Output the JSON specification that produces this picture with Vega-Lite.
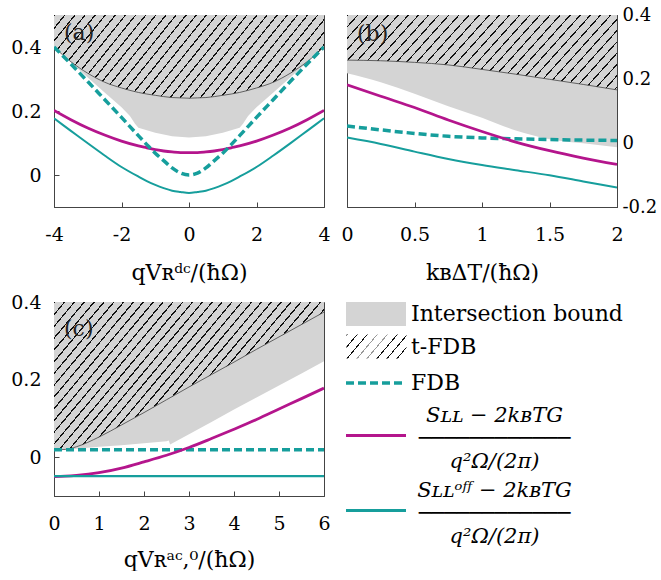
{
  "$schema": "https://vega.github.io/schema/vega-lite/v6.json",
  "padding": {"left": 10, "top": 5, "right": 0, "bottom": 0},
  "background": "white",
  "resolve": {
    "scale": {"fill": "independent", "opacity": "independent", "strokeDash": "independent", "stroke": "independent"},
    "legend": {"fill": "independent", "opacity": "independent", "strokeDash": "independent", "stroke": "independent"}
  },
  "datasets": {
    "a": [
      {"x": -4, "fdb": 0.400, "tfdb": 0.400, "sll": 0.202, "soff": 0.177},
      {"x": -3.5, "fdb": 0.347, "tfdb": 0.354, "sll": 0.173, "soff": 0.138},
      {"x": -3, "fdb": 0.292, "tfdb": 0.318, "sll": 0.147, "soff": 0.099},
      {"x": -2.5, "fdb": 0.236, "tfdb": 0.290, "sll": 0.125, "soff": 0.061},
      {"x": -2, "fdb": 0.180, "tfdb": 0.272, "sll": 0.106, "soff": 0.025},
      {"x": -1.5, "fdb": 0.123, "tfdb": 0.258, "sll": 0.091, "soff": -0.005},
      {"x": -1.25, "fdb": 0.095, "tfdb": 0.253, "sll": 0.085, "soff": -0.019},
      {"x": -1, "fdb": 0.068, "tfdb": 0.249, "sll": 0.079, "soff": -0.031},
      {"x": -0.75, "fdb": 0.045, "tfdb": 0.245, "sll": 0.075, "soff": -0.041},
      {"x": -0.5, "fdb": 0.022, "tfdb": 0.242, "sll": 0.072, "soff": -0.049},
      {"x": -0.25, "fdb": 0.006, "tfdb": 0.241, "sll": 0.070, "soff": -0.053},
      {"x": 0, "fdb": 0.000, "tfdb": 0.240, "sll": 0.070, "soff": -0.056},
      {"x": 0.25, "fdb": 0.006, "tfdb": 0.241, "sll": 0.070, "soff": -0.053},
      {"x": 0.5, "fdb": 0.022, "tfdb": 0.242, "sll": 0.072, "soff": -0.049},
      {"x": 0.75, "fdb": 0.045, "tfdb": 0.245, "sll": 0.075, "soff": -0.041},
      {"x": 1, "fdb": 0.068, "tfdb": 0.249, "sll": 0.079, "soff": -0.031},
      {"x": 1.25, "fdb": 0.095, "tfdb": 0.253, "sll": 0.085, "soff": -0.019},
      {"x": 1.5, "fdb": 0.123, "tfdb": 0.258, "sll": 0.091, "soff": -0.005},
      {"x": 2, "fdb": 0.180, "tfdb": 0.272, "sll": 0.106, "soff": 0.025},
      {"x": 2.5, "fdb": 0.236, "tfdb": 0.290, "sll": 0.125, "soff": 0.061},
      {"x": 3, "fdb": 0.292, "tfdb": 0.318, "sll": 0.147, "soff": 0.099},
      {"x": 3.5, "fdb": 0.347, "tfdb": 0.354, "sll": 0.173, "soff": 0.138},
      {"x": 4, "fdb": 0.400, "tfdb": 0.400, "sll": 0.202, "soff": 0.177}
    ],
    "a_gray": [
      {"x": -4, "g": 0.400}, {"x": -3.5, "g": 0.352}, {"x": -3, "g": 0.305}, {"x": -2.5, "g": 0.258},
      {"x": -2, "g": 0.212}, {"x": -1.75, "g": 0.184}, {"x": -1.6, "g": 0.160}, {"x": -1.5, "g": 0.148},
      {"x": -1, "g": 0.132}, {"x": -0.5, "g": 0.121}, {"x": 0, "g": 0.117}, {"x": 0.5, "g": 0.121},
      {"x": 1, "g": 0.132}, {"x": 1.5, "g": 0.148}, {"x": 1.6, "g": 0.160}, {"x": 1.75, "g": 0.184},
      {"x": 2, "g": 0.212}, {"x": 2.5, "g": 0.258}, {"x": 3, "g": 0.305}, {"x": 3.5, "g": 0.352}, {"x": 4, "g": 0.400}
    ],
    "b": [
      {"x": 0, "fdb": 0.053, "tfdb": 0.259, "sll": 0.182, "soff": 0.017},
      {"x": 0.25, "fdb": 0.041, "tfdb": 0.257, "sll": 0.146, "soff": -0.003},
      {"x": 0.5, "fdb": 0.030, "tfdb": 0.252, "sll": 0.111, "soff": -0.027},
      {"x": 0.75, "fdb": 0.021, "tfdb": 0.244, "sll": 0.072, "soff": -0.050},
      {"x": 1, "fdb": 0.016, "tfdb": 0.230, "sll": 0.036, "soff": -0.069},
      {"x": 1.25, "fdb": 0.013, "tfdb": 0.215, "sll": 0.003, "soff": -0.085},
      {"x": 1.5, "fdb": 0.011, "tfdb": 0.199, "sll": -0.024, "soff": -0.101},
      {"x": 1.75, "fdb": 0.009, "tfdb": 0.183, "sll": -0.047, "soff": -0.120},
      {"x": 2, "fdb": 0.008, "tfdb": 0.166, "sll": -0.067, "soff": -0.139}
    ],
    "b_gray": [
      {"x": 0, "g": 0.218}, {"x": 0.25, "g": 0.190}, {"x": 0.5, "g": 0.154}, {"x": 0.75, "g": 0.115},
      {"x": 1, "g": 0.079}, {"x": 1.25, "g": 0.039}, {"x": 1.5, "g": 0.012}, {"x": 1.75, "g": -0.001}, {"x": 2, "g": -0.013}
    ],
    "c": [
      {"x": 0, "fdb": 0.019, "tfdb": 0.019, "sll": -0.050, "soff": -0.049},
      {"x": 0.25, "fdb": 0.019, "tfdb": 0.020, "sll": -0.049, "soff": -0.049},
      {"x": 0.5, "fdb": 0.019, "tfdb": 0.027, "sll": -0.047, "soff": -0.049},
      {"x": 1, "fdb": 0.019, "tfdb": 0.052, "sll": -0.040, "soff": -0.049},
      {"x": 1.5, "fdb": 0.019, "tfdb": 0.083, "sll": -0.028, "soff": -0.049},
      {"x": 2, "fdb": 0.019, "tfdb": 0.115, "sll": -0.012, "soff": -0.049},
      {"x": 2.5, "fdb": 0.019, "tfdb": 0.148, "sll": 0.005, "soff": -0.049},
      {"x": 3, "fdb": 0.019, "tfdb": 0.181, "sll": 0.025, "soff": -0.049},
      {"x": 3.5, "fdb": 0.019, "tfdb": 0.213, "sll": 0.048, "soff": -0.049},
      {"x": 4, "fdb": 0.019, "tfdb": 0.245, "sll": 0.072, "soff": -0.049},
      {"x": 4.5, "fdb": 0.019, "tfdb": 0.278, "sll": 0.097, "soff": -0.049},
      {"x": 5, "fdb": 0.019, "tfdb": 0.310, "sll": 0.124, "soff": -0.049},
      {"x": 5.5, "fdb": 0.019, "tfdb": 0.342, "sll": 0.151, "soff": -0.049},
      {"x": 6, "fdb": 0.019, "tfdb": 0.374, "sll": 0.178, "soff": -0.049}
    ],
    "c_gray": [
      {"x": 0, "g": 0.019}, {"x": 0.5, "g": 0.022}, {"x": 1, "g": 0.027}, {"x": 1.5, "g": 0.031},
      {"x": 2, "g": 0.036}, {"x": 2.5, "g": 0.041}, {"x": 2.55, "g": 0.043}, {"x": 2.58, "g": 0.033},
      {"x": 3, "g": 0.059}, {"x": 3.5, "g": 0.091}, {"x": 4, "g": 0.123}, {"x": 4.5, "g": 0.154},
      {"x": 5, "g": 0.185}, {"x": 5.5, "g": 0.216}, {"x": 6, "g": 0.247}
    ],
    "none": []
  },
  "vconcat": [
    {
      "hconcat": [
        {
          "width": 270, "height": 192,
          "title": {"text": "(a)", "anchor": "start", "frame": "group", "offset": -30, "dx": 10, "baseline": "top", "fontSize": 22, "font": "DejaVu Serif", "fontWeight": "normal", "color": "#222"},
          "layer": [
            {"data": {"name": "a_gray"}, "mark": {"type": "area", "color": "#d4d4d4", "opacity": 1, "clip": true},
             "encoding": {
               "x": {"field": "x", "type": "quantitative", "scale": {"domain": [-4, 4], "nice": false}, "axis": {"values": [-4, -2, 0, 2, 4], "labelExpr": "replace(datum.label, '−', '-')", "title": "qVʀᵈᶜ/(ħΩ)", "labelPadding": 23, "titlePadding": 18}},
               "y": {"field": "g", "type": "quantitative", "scale": {"domain": [-0.1, 0.5], "nice": false, "zero": false}, "axis": {"values": [0, 0.2, 0.4], "format": "~g", "title": null, "labelPadding": 18}},
               "y2": {"datum": 0.5}}},
            {"data": {"name": "a"}, "mark": {"type": "area", "opacity": 1, "clip": true, "interpolate": "monotone",
               "fill": {"gradient": "linear", "x1": 0, "y1": 0, "x2": 1.1758, "y2": 0.2924, "stops": [
{"offset":0,"color":"#111"},{"offset":0.0045,"color":"#111"},{"offset":0.0045,"color":"transparent"},{"offset":0.03,"color":"transparent"},
{"offset":0.03,"color":"#111"},{"offset":0.0345,"color":"#111"},{"offset":0.0345,"color":"transparent"},{"offset":0.06,"color":"transparent"},
{"offset":0.06,"color":"#111"},{"offset":0.0645,"color":"#111"},{"offset":0.0645,"color":"transparent"},{"offset":0.09,"color":"transparent"},
{"offset":0.09,"color":"#111"},{"offset":0.0945,"color":"#111"},{"offset":0.0945,"color":"transparent"},{"offset":0.12,"color":"transparent"},
{"offset":0.12,"color":"#111"},{"offset":0.1245,"color":"#111"},{"offset":0.1245,"color":"transparent"},{"offset":0.15,"color":"transparent"},
{"offset":0.15,"color":"#111"},{"offset":0.1545,"color":"#111"},{"offset":0.1545,"color":"transparent"},{"offset":0.18,"color":"transparent"},
{"offset":0.18,"color":"#111"},{"offset":0.1845,"color":"#111"},{"offset":0.1845,"color":"transparent"},{"offset":0.21,"color":"transparent"},
{"offset":0.21,"color":"#111"},{"offset":0.2145,"color":"#111"},{"offset":0.2145,"color":"transparent"},{"offset":0.24,"color":"transparent"},
{"offset":0.24,"color":"#111"},{"offset":0.2445,"color":"#111"},{"offset":0.2445,"color":"transparent"},{"offset":0.27,"color":"transparent"},
{"offset":0.27,"color":"#111"},{"offset":0.2745,"color":"#111"},{"offset":0.2745,"color":"transparent"},{"offset":0.30,"color":"transparent"},
{"offset":0.30,"color":"#111"},{"offset":0.3045,"color":"#111"},{"offset":0.3045,"color":"transparent"},{"offset":0.33,"color":"transparent"},
{"offset":0.33,"color":"#111"},{"offset":0.3345,"color":"#111"},{"offset":0.3345,"color":"transparent"},{"offset":0.36,"color":"transparent"},
{"offset":0.36,"color":"#111"},{"offset":0.3645,"color":"#111"},{"offset":0.3645,"color":"transparent"},{"offset":0.39,"color":"transparent"},
{"offset":0.39,"color":"#111"},{"offset":0.3945,"color":"#111"},{"offset":0.3945,"color":"transparent"},{"offset":0.42,"color":"transparent"},
{"offset":0.42,"color":"#111"},{"offset":0.4245,"color":"#111"},{"offset":0.4245,"color":"transparent"},{"offset":0.45,"color":"transparent"},
{"offset":0.45,"color":"#111"},{"offset":0.4545,"color":"#111"},{"offset":0.4545,"color":"transparent"},{"offset":0.48,"color":"transparent"},
{"offset":0.48,"color":"#111"},{"offset":0.4845,"color":"#111"},{"offset":0.4845,"color":"transparent"},{"offset":0.51,"color":"transparent"},
{"offset":0.51,"color":"#111"},{"offset":0.5145,"color":"#111"},{"offset":0.5145,"color":"transparent"},{"offset":0.54,"color":"transparent"},
{"offset":0.54,"color":"#111"},{"offset":0.5445,"color":"#111"},{"offset":0.5445,"color":"transparent"},{"offset":0.57,"color":"transparent"},
{"offset":0.57,"color":"#111"},{"offset":0.5745,"color":"#111"},{"offset":0.5745,"color":"transparent"},{"offset":0.60,"color":"transparent"},
{"offset":0.60,"color":"#111"},{"offset":0.6045,"color":"#111"},{"offset":0.6045,"color":"transparent"},{"offset":0.63,"color":"transparent"},
{"offset":0.63,"color":"#111"},{"offset":0.6345,"color":"#111"},{"offset":0.6345,"color":"transparent"},{"offset":0.66,"color":"transparent"},
{"offset":0.66,"color":"#111"},{"offset":0.6645,"color":"#111"},{"offset":0.6645,"color":"transparent"},{"offset":0.69,"color":"transparent"},
{"offset":0.69,"color":"#111"},{"offset":0.6945,"color":"#111"},{"offset":0.6945,"color":"transparent"},{"offset":0.72,"color":"transparent"},
{"offset":0.72,"color":"#111"},{"offset":0.7245,"color":"#111"},{"offset":0.7245,"color":"transparent"},{"offset":0.75,"color":"transparent"},
{"offset":0.75,"color":"#111"},{"offset":0.7545,"color":"#111"},{"offset":0.7545,"color":"transparent"},{"offset":0.78,"color":"transparent"},
{"offset":0.78,"color":"#111"},{"offset":0.7845,"color":"#111"},{"offset":0.7845,"color":"transparent"},{"offset":0.81,"color":"transparent"},
{"offset":0.81,"color":"#111"},{"offset":0.8145,"color":"#111"},{"offset":0.8145,"color":"transparent"},{"offset":0.84,"color":"transparent"},
{"offset":0.84,"color":"#111"},{"offset":0.8445,"color":"#111"},{"offset":0.8445,"color":"transparent"},{"offset":0.87,"color":"transparent"},
{"offset":0.87,"color":"#111"},{"offset":0.8745,"color":"#111"},{"offset":0.8745,"color":"transparent"},{"offset":0.90,"color":"transparent"},
{"offset":0.90,"color":"#111"},{"offset":0.9045,"color":"#111"},{"offset":0.9045,"color":"transparent"},{"offset":0.93,"color":"transparent"},
{"offset":0.93,"color":"#111"},{"offset":0.9345,"color":"#111"},{"offset":0.9345,"color":"transparent"},{"offset":0.96,"color":"transparent"},
{"offset":0.96,"color":"#111"},{"offset":0.9645,"color":"#111"},{"offset":0.9645,"color":"transparent"},{"offset":0.99,"color":"transparent"},
{"offset":0.99,"color":"#111"},{"offset":0.9945,"color":"#111"},{"offset":0.9945,"color":"transparent"},{"offset":1,"color":"transparent"}
               ]}},
             "encoding": {"x": {"field": "x", "type": "quantitative"}, "y": {"field": "tfdb", "type": "quantitative"}, "y2": {"datum": 0.5}}},
            {"data": {"name": "a"}, "mark": {"type": "line", "color": "#444", "strokeWidth": 0.8, "interpolate": "monotone", "clip": true},
             "encoding": {"x": {"field": "x", "type": "quantitative"}, "y": {"field": "tfdb", "type": "quantitative"}}},
            {"data": {"name": "a"}, "mark": {"type": "line", "color": "#b4158c", "strokeWidth": 2.8, "interpolate": "monotone", "clip": true},
             "encoding": {"x": {"field": "x", "type": "quantitative"}, "y": {"field": "sll", "type": "quantitative"}}},
            {"data": {"name": "a"}, "mark": {"type": "line", "color": "#169e9c", "strokeWidth": 2, "interpolate": "monotone", "clip": true},
             "encoding": {"x": {"field": "x", "type": "quantitative"}, "y": {"field": "soff", "type": "quantitative"}}},
            {"data": {"name": "a"}, "mark": {"type": "line", "color": "#169e9c", "strokeWidth": 3.5, "strokeDash": [8, 4], "interpolate": "monotone", "clip": true},
             "encoding": {"x": {"field": "x", "type": "quantitative"}, "y": {"field": "fdb", "type": "quantitative"}}},
            {"mark": {"type": "rule", "color": "#777", "strokeWidth": 1.2, "strokeDash": [5, 3]},
             "encoding": {"x": {"datum": 0.5, "type": "quantitative"}}}
          ]
        },
        {
          "width": 270, "height": 192,
          "title": {"text": "(b)", "anchor": "start", "frame": "group", "offset": -40, "dx": 10, "baseline": "top", "fontSize": 22, "font": "DejaVu Serif", "fontWeight": "normal", "color": "#222"},
          "layer": [
            {"data": {"name": "b_gray"}, "mark": {"type": "area", "color": "#d4d4d4", "opacity": 1, "clip": true, "interpolate": "monotone"},
             "encoding": {
               "x": {"field": "x", "type": "quantitative", "scale": {"domain": [0, 2], "nice": false}, "axis": {"values": [0, 0.5, 1, 1.5, 2], "format": "~g", "title": "kʙΔT/(ħΩ)", "labelPadding": 23, "titlePadding": 18}},
               "y": {"field": "g", "type": "quantitative", "scale": {"domain": [-0.2, 0.4], "nice": false, "zero": false}, "axis": {"orient": "right", "values": [-0.2, 0, 0.2, 0.4], "format": "~g", "labelExpr": "replace(datum.label, '−', '-')", "title": null, "labelPadding": 10, "labelFontSize": 18}},
               "y2": {"datum": 0.4}}},
            {"data": {"name": "b"}, "mark": {"type": "area", "opacity": 1, "clip": true, "interpolate": "monotone",
               "fill": {"gradient": "linear", "x1": 0, "y1": 0, "x2": 1.1758, "y2": 0.2924, "stops": [
{"offset":0,"color":"#111"},{"offset":0.0045,"color":"#111"},{"offset":0.0045,"color":"transparent"},{"offset":0.03,"color":"transparent"},
{"offset":0.03,"color":"#111"},{"offset":0.0345,"color":"#111"},{"offset":0.0345,"color":"transparent"},{"offset":0.06,"color":"transparent"},
{"offset":0.06,"color":"#111"},{"offset":0.0645,"color":"#111"},{"offset":0.0645,"color":"transparent"},{"offset":0.09,"color":"transparent"},
{"offset":0.09,"color":"#111"},{"offset":0.0945,"color":"#111"},{"offset":0.0945,"color":"transparent"},{"offset":0.12,"color":"transparent"},
{"offset":0.12,"color":"#111"},{"offset":0.1245,"color":"#111"},{"offset":0.1245,"color":"transparent"},{"offset":0.15,"color":"transparent"},
{"offset":0.15,"color":"#111"},{"offset":0.1545,"color":"#111"},{"offset":0.1545,"color":"transparent"},{"offset":0.18,"color":"transparent"},
{"offset":0.18,"color":"#111"},{"offset":0.1845,"color":"#111"},{"offset":0.1845,"color":"transparent"},{"offset":0.21,"color":"transparent"},
{"offset":0.21,"color":"#111"},{"offset":0.2145,"color":"#111"},{"offset":0.2145,"color":"transparent"},{"offset":0.24,"color":"transparent"},
{"offset":0.24,"color":"#111"},{"offset":0.2445,"color":"#111"},{"offset":0.2445,"color":"transparent"},{"offset":0.27,"color":"transparent"},
{"offset":0.27,"color":"#111"},{"offset":0.2745,"color":"#111"},{"offset":0.2745,"color":"transparent"},{"offset":0.30,"color":"transparent"},
{"offset":0.30,"color":"#111"},{"offset":0.3045,"color":"#111"},{"offset":0.3045,"color":"transparent"},{"offset":0.33,"color":"transparent"},
{"offset":0.33,"color":"#111"},{"offset":0.3345,"color":"#111"},{"offset":0.3345,"color":"transparent"},{"offset":0.36,"color":"transparent"},
{"offset":0.36,"color":"#111"},{"offset":0.3645,"color":"#111"},{"offset":0.3645,"color":"transparent"},{"offset":0.39,"color":"transparent"},
{"offset":0.39,"color":"#111"},{"offset":0.3945,"color":"#111"},{"offset":0.3945,"color":"transparent"},{"offset":0.42,"color":"transparent"},
{"offset":0.42,"color":"#111"},{"offset":0.4245,"color":"#111"},{"offset":0.4245,"color":"transparent"},{"offset":0.45,"color":"transparent"},
{"offset":0.45,"color":"#111"},{"offset":0.4545,"color":"#111"},{"offset":0.4545,"color":"transparent"},{"offset":0.48,"color":"transparent"},
{"offset":0.48,"color":"#111"},{"offset":0.4845,"color":"#111"},{"offset":0.4845,"color":"transparent"},{"offset":0.51,"color":"transparent"},
{"offset":0.51,"color":"#111"},{"offset":0.5145,"color":"#111"},{"offset":0.5145,"color":"transparent"},{"offset":0.54,"color":"transparent"},
{"offset":0.54,"color":"#111"},{"offset":0.5445,"color":"#111"},{"offset":0.5445,"color":"transparent"},{"offset":0.57,"color":"transparent"},
{"offset":0.57,"color":"#111"},{"offset":0.5745,"color":"#111"},{"offset":0.5745,"color":"transparent"},{"offset":0.60,"color":"transparent"},
{"offset":0.60,"color":"#111"},{"offset":0.6045,"color":"#111"},{"offset":0.6045,"color":"transparent"},{"offset":0.63,"color":"transparent"},
{"offset":0.63,"color":"#111"},{"offset":0.6345,"color":"#111"},{"offset":0.6345,"color":"transparent"},{"offset":0.66,"color":"transparent"},
{"offset":0.66,"color":"#111"},{"offset":0.6645,"color":"#111"},{"offset":0.6645,"color":"transparent"},{"offset":0.69,"color":"transparent"},
{"offset":0.69,"color":"#111"},{"offset":0.6945,"color":"#111"},{"offset":0.6945,"color":"transparent"},{"offset":0.72,"color":"transparent"},
{"offset":0.72,"color":"#111"},{"offset":0.7245,"color":"#111"},{"offset":0.7245,"color":"transparent"},{"offset":0.75,"color":"transparent"},
{"offset":0.75,"color":"#111"},{"offset":0.7545,"color":"#111"},{"offset":0.7545,"color":"transparent"},{"offset":0.78,"color":"transparent"},
{"offset":0.78,"color":"#111"},{"offset":0.7845,"color":"#111"},{"offset":0.7845,"color":"transparent"},{"offset":0.81,"color":"transparent"},
{"offset":0.81,"color":"#111"},{"offset":0.8145,"color":"#111"},{"offset":0.8145,"color":"transparent"},{"offset":0.84,"color":"transparent"},
{"offset":0.84,"color":"#111"},{"offset":0.8445,"color":"#111"},{"offset":0.8445,"color":"transparent"},{"offset":0.87,"color":"transparent"},
{"offset":0.87,"color":"#111"},{"offset":0.8745,"color":"#111"},{"offset":0.8745,"color":"transparent"},{"offset":0.90,"color":"transparent"},
{"offset":0.90,"color":"#111"},{"offset":0.9045,"color":"#111"},{"offset":0.9045,"color":"transparent"},{"offset":0.93,"color":"transparent"},
{"offset":0.93,"color":"#111"},{"offset":0.9345,"color":"#111"},{"offset":0.9345,"color":"transparent"},{"offset":0.96,"color":"transparent"},
{"offset":0.96,"color":"#111"},{"offset":0.9645,"color":"#111"},{"offset":0.9645,"color":"transparent"},{"offset":0.99,"color":"transparent"},
{"offset":0.99,"color":"#111"},{"offset":0.9945,"color":"#111"},{"offset":0.9945,"color":"transparent"},{"offset":1,"color":"transparent"}
               ]}},
             "encoding": {"x": {"field": "x", "type": "quantitative"}, "y": {"field": "tfdb", "type": "quantitative"}, "y2": {"datum": 0.4}}},
            {"data": {"name": "b"}, "mark": {"type": "line", "color": "#444", "strokeWidth": 0.8, "interpolate": "monotone", "clip": true},
             "encoding": {"x": {"field": "x", "type": "quantitative"}, "y": {"field": "tfdb", "type": "quantitative"}}},
            {"data": {"name": "b"}, "mark": {"type": "line", "color": "#169e9c", "strokeWidth": 3.5, "strokeDash": [8, 4], "interpolate": "monotone", "clip": true},
             "encoding": {"x": {"field": "x", "type": "quantitative"}, "y": {"field": "fdb", "type": "quantitative"}}},
            {"data": {"name": "b"}, "mark": {"type": "line", "color": "#b4158c", "strokeWidth": 2.8, "interpolate": "monotone", "clip": true},
             "encoding": {"x": {"field": "x", "type": "quantitative"}, "y": {"field": "sll", "type": "quantitative"}}},
            {"data": {"name": "b"}, "mark": {"type": "line", "color": "#169e9c", "strokeWidth": 2, "interpolate": "monotone", "clip": true},
             "encoding": {"x": {"field": "x", "type": "quantitative"}, "y": {"field": "soff", "type": "quantitative"}}},
            {"mark": {"type": "rule", "color": "#777", "strokeWidth": 1.2, "strokeDash": [5, 3]},
             "encoding": {"x": {"datum": 0.7, "type": "quantitative"}}}
          ]
        }
      ],
      "spacing": 9
    },
    {
      "width": 270, "height": 194,
      "title": {"text": "(c)", "anchor": "start", "frame": "group", "offset": -48, "dx": 10, "baseline": "top", "fontSize": 22, "font": "DejaVu Serif", "fontWeight": "normal", "color": "#222"},
      "layer": [
        {"data": {"name": "c_gray"}, "mark": {"type": "area", "opacity": 1, "clip": true},
         "encoding": {
           "x": {"field": "x", "type": "quantitative", "scale": {"domain": [0, 6], "nice": false}, "axis": {"values": [0, 1, 2, 3, 4, 5, 6], "title": "qVʀᵃᶜ,⁰/(ħΩ)", "labelPadding": 23, "titlePadding": 16}},
           "y": {"field": "g", "type": "quantitative", "scale": {"domain": [-0.1, 0.4], "nice": false, "zero": false}, "axis": {"values": [0, 0.2, 0.4], "format": "~g", "title": null, "labelPadding": 18}},
           "y2": {"datum": 0.4},
           "fill": {"datum": "Intersection bound", "type": "nominal", "scale": {"range": ["#d4d4d4"]},
             "legend": {"title": null, "orient": "right", "offset": 22, "padding": 0,
               "labelFont": "DejaVu Serif", "labelFontSize": 22, "labelLimit": 400, "labelColor": "#000",
               "symbolType": "M-2.5,-1H2.5V1H-2.5Z", "symbolSize": 576, "symbolStrokeWidth": 0, "symbolOffset": 18, "labelOffset": 23}}}},
        {"data": {"name": "c"}, "mark": {"type": "area", "opacity": 1, "clip": true, "interpolate": "monotone",
           "fill": {"gradient": "linear", "x1": 0, "y1": 0, "x2": 1.2052, "y2": 0.5522, "stops": [
{"offset":0,"color":"#111"},{"offset":0.004,"color":"#111"},{"offset":0.004,"color":"transparent"},{"offset":0.025,"color":"transparent"},
{"offset":0.025,"color":"#111"},{"offset":0.029,"color":"#111"},{"offset":0.029,"color":"transparent"},{"offset":0.05,"color":"transparent"},
{"offset":0.05,"color":"#111"},{"offset":0.054,"color":"#111"},{"offset":0.054,"color":"transparent"},{"offset":0.075,"color":"transparent"},
{"offset":0.075,"color":"#111"},{"offset":0.079,"color":"#111"},{"offset":0.079,"color":"transparent"},{"offset":0.1,"color":"transparent"},
{"offset":0.1,"color":"#111"},{"offset":0.104,"color":"#111"},{"offset":0.104,"color":"transparent"},{"offset":0.125,"color":"transparent"},
{"offset":0.125,"color":"#111"},{"offset":0.129,"color":"#111"},{"offset":0.129,"color":"transparent"},{"offset":0.15,"color":"transparent"},
{"offset":0.15,"color":"#111"},{"offset":0.154,"color":"#111"},{"offset":0.154,"color":"transparent"},{"offset":0.175,"color":"transparent"},
{"offset":0.175,"color":"#111"},{"offset":0.179,"color":"#111"},{"offset":0.179,"color":"transparent"},{"offset":0.2,"color":"transparent"},
{"offset":0.2,"color":"#111"},{"offset":0.204,"color":"#111"},{"offset":0.204,"color":"transparent"},{"offset":0.225,"color":"transparent"},
{"offset":0.225,"color":"#111"},{"offset":0.229,"color":"#111"},{"offset":0.229,"color":"transparent"},{"offset":0.25,"color":"transparent"},
{"offset":0.25,"color":"#111"},{"offset":0.254,"color":"#111"},{"offset":0.254,"color":"transparent"},{"offset":0.275,"color":"transparent"},
{"offset":0.275,"color":"#111"},{"offset":0.279,"color":"#111"},{"offset":0.279,"color":"transparent"},{"offset":0.3,"color":"transparent"},
{"offset":0.3,"color":"#111"},{"offset":0.304,"color":"#111"},{"offset":0.304,"color":"transparent"},{"offset":0.325,"color":"transparent"},
{"offset":0.325,"color":"#111"},{"offset":0.329,"color":"#111"},{"offset":0.329,"color":"transparent"},{"offset":0.35,"color":"transparent"},
{"offset":0.35,"color":"#111"},{"offset":0.354,"color":"#111"},{"offset":0.354,"color":"transparent"},{"offset":0.375,"color":"transparent"},
{"offset":0.375,"color":"#111"},{"offset":0.379,"color":"#111"},{"offset":0.379,"color":"transparent"},{"offset":0.4,"color":"transparent"},
{"offset":0.4,"color":"#111"},{"offset":0.404,"color":"#111"},{"offset":0.404,"color":"transparent"},{"offset":0.425,"color":"transparent"},
{"offset":0.425,"color":"#111"},{"offset":0.429,"color":"#111"},{"offset":0.429,"color":"transparent"},{"offset":0.45,"color":"transparent"},
{"offset":0.45,"color":"#111"},{"offset":0.454,"color":"#111"},{"offset":0.454,"color":"transparent"},{"offset":0.475,"color":"transparent"},
{"offset":0.475,"color":"#111"},{"offset":0.479,"color":"#111"},{"offset":0.479,"color":"transparent"},{"offset":0.5,"color":"transparent"},
{"offset":0.5,"color":"#111"},{"offset":0.504,"color":"#111"},{"offset":0.504,"color":"transparent"},{"offset":0.525,"color":"transparent"},
{"offset":0.525,"color":"#111"},{"offset":0.529,"color":"#111"},{"offset":0.529,"color":"transparent"},{"offset":0.55,"color":"transparent"},
{"offset":0.55,"color":"#111"},{"offset":0.554,"color":"#111"},{"offset":0.554,"color":"transparent"},{"offset":0.575,"color":"transparent"},
{"offset":0.575,"color":"#111"},{"offset":0.579,"color":"#111"},{"offset":0.579,"color":"transparent"},{"offset":0.6,"color":"transparent"},
{"offset":0.6,"color":"#111"},{"offset":0.604,"color":"#111"},{"offset":0.604,"color":"transparent"},{"offset":0.625,"color":"transparent"},
{"offset":0.625,"color":"#111"},{"offset":0.629,"color":"#111"},{"offset":0.629,"color":"transparent"},{"offset":0.65,"color":"transparent"},
{"offset":0.65,"color":"#111"},{"offset":0.654,"color":"#111"},{"offset":0.654,"color":"transparent"},{"offset":0.675,"color":"transparent"},
{"offset":0.675,"color":"#111"},{"offset":0.679,"color":"#111"},{"offset":0.679,"color":"transparent"},{"offset":0.7,"color":"transparent"},
{"offset":0.7,"color":"#111"},{"offset":0.704,"color":"#111"},{"offset":0.704,"color":"transparent"},{"offset":0.725,"color":"transparent"},
{"offset":0.725,"color":"#111"},{"offset":0.729,"color":"#111"},{"offset":0.729,"color":"transparent"},{"offset":0.75,"color":"transparent"},
{"offset":0.75,"color":"#111"},{"offset":0.754,"color":"#111"},{"offset":0.754,"color":"transparent"},{"offset":0.775,"color":"transparent"},
{"offset":0.775,"color":"#111"},{"offset":0.779,"color":"#111"},{"offset":0.779,"color":"transparent"},{"offset":0.8,"color":"transparent"},
{"offset":0.8,"color":"#111"},{"offset":0.804,"color":"#111"},{"offset":0.804,"color":"transparent"},{"offset":0.825,"color":"transparent"},
{"offset":0.825,"color":"#111"},{"offset":0.829,"color":"#111"},{"offset":0.829,"color":"transparent"},{"offset":0.85,"color":"transparent"},
{"offset":0.85,"color":"#111"},{"offset":0.854,"color":"#111"},{"offset":0.854,"color":"transparent"},{"offset":0.875,"color":"transparent"},
{"offset":0.875,"color":"#111"},{"offset":0.879,"color":"#111"},{"offset":0.879,"color":"transparent"},{"offset":0.9,"color":"transparent"},
{"offset":0.9,"color":"#111"},{"offset":0.904,"color":"#111"},{"offset":0.904,"color":"transparent"},{"offset":0.925,"color":"transparent"},
{"offset":0.925,"color":"#111"},{"offset":0.929,"color":"#111"},{"offset":0.929,"color":"transparent"},{"offset":0.95,"color":"transparent"},
{"offset":0.95,"color":"#111"},{"offset":0.954,"color":"#111"},{"offset":0.954,"color":"transparent"},{"offset":0.975,"color":"transparent"},
{"offset":0.975,"color":"#111"},{"offset":0.979,"color":"#111"},{"offset":0.979,"color":"transparent"},{"offset":1,"color":"transparent"}
           ]}},
         "encoding": {"x": {"field": "x", "type": "quantitative"}, "y": {"field": "tfdb", "type": "quantitative"}, "y2": {"datum": 0.4}}},
        {"data": {"name": "none"}, "mark": {"type": "area", "stroke": "#555", "strokeWidth": 0.8,
           "fill": {"gradient": "linear", "x1": 0, "y1": 0, "x2": 1.2005, "y2": 0.4031, "stops": [
             {"offset":0,"color":"#111"},{"offset":0.016,"color":"#111"},{"offset":0.016,"color":"transparent"},{"offset":0.125,"color":"transparent"},
             {"offset":0.125,"color":"#111"},{"offset":0.141,"color":"#111"},{"offset":0.141,"color":"transparent"},{"offset":0.25,"color":"transparent"},
             {"offset":0.25,"color":"#111"},{"offset":0.266,"color":"#111"},{"offset":0.266,"color":"transparent"},{"offset":0.375,"color":"transparent"},
             {"offset":0.375,"color":"#999"},{"offset":0.391,"color":"#999"},{"offset":0.391,"color":"transparent"},{"offset":0.5,"color":"transparent"},
             {"offset":0.5,"color":"#999"},{"offset":0.516,"color":"#999"},{"offset":0.516,"color":"transparent"},{"offset":0.625,"color":"transparent"},
             {"offset":0.625,"color":"#111"},{"offset":0.641,"color":"#111"},{"offset":0.641,"color":"transparent"},{"offset":0.75,"color":"transparent"},
             {"offset":0.75,"color":"#111"},{"offset":0.766,"color":"#111"},{"offset":0.766,"color":"transparent"},{"offset":0.875,"color":"transparent"},
             {"offset":0.875,"color":"#111"},{"offset":0.891,"color":"#111"},{"offset":0.891,"color":"transparent"},{"offset":1,"color":"transparent"}
           ]}},
         "encoding": {"x": {"field": "x", "type": "quantitative"}, "y": {"field": "tfdb", "type": "quantitative"},
           "opacity": {"datum": "t-FDB", "type": "nominal", "scale": {"type": "ordinal", "range": [1]},
             "legend": {"title": null, "orient": "right", "offset": 22, "padding": 0,
               "labelFont": "DejaVu Serif", "labelFontSize": 22, "labelLimit": 400, "labelColor": "#000",
               "symbolType": "M-2.5,-1H2.5V1H-2.5Z", "symbolSize": 576, "symbolStrokeWidth": 0.8, "symbolStrokeColor": "#555", "symbolOffset": 18, "labelOffset": 22}}}},
        {"data": {"name": "c"}, "mark": {"type": "line", "color": "#444", "strokeWidth": 0.8, "interpolate": "monotone", "clip": true},
         "encoding": {"x": {"field": "x", "type": "quantitative"}, "y": {"field": "tfdb", "type": "quantitative"}}},
        {"data": {"name": "c"}, "mark": {"type": "line", "color": "#169e9c", "strokeWidth": 3.5, "clip": true},
         "encoding": {"x": {"field": "x", "type": "quantitative"}, "y": {"field": "fdb", "type": "quantitative"},
           "strokeDash": {"datum": "FDB", "type": "nominal", "scale": {"range": [[8, 4]]},
             "legend": {"title": null, "orient": "right", "offset": 22, "padding": 0,
               "labelFont": "DejaVu Serif", "labelFontSize": 22, "labelLimit": 400, "labelColor": "#000",
               "symbolType": "M-2.5,0H2.5", "symbolSize": 576, "symbolStrokeWidth": 3.5, "symbolStrokeColor": "#169e9c", "symbolOffset": 16, "labelOffset": 21}}}},
        {"data": {"name": "c"}, "mark": {"type": "line", "color": "#b4158c", "strokeWidth": 2.8, "interpolate": "monotone", "clip": true},
         "encoding": {"x": {"field": "x", "type": "quantitative"}, "y": {"field": "sll", "type": "quantitative"},
           "stroke": {"datum": "S_LL", "type": "nominal", "scale": {"domain": ["S_LL", "S_off"], "range": ["#b4158c", "#169e9c"]},
             "legend": {"title": null, "orient": "right", "offset": 22, "padding": 0,
               "labelFont": "DejaVu Serif", "labelFontSize": 21, "labelFontStyle": "italic", "labelLimit": 400, "labelColor": "#000",
               "labelAlign": "center", "labelLineHeight": 20, "rowPadding": 5,
               "symbolType": "M-2.5,1.667H2.5", "symbolSize": 576, "symbolStrokeWidth": 3, "symbolOffset": 16.5, "labelOffset": 105,
               "labelExpr": "datum.value == 'S_LL' ? ['Sʟʟ − 2kʙTG', '────────────', 'q²Ω/(2π)'] : ['Sʟʟᵒᶠᶠ − 2kʙTG', '────────────', 'q²Ω/(2π)']"}}}},
        {"data": {"name": "c"}, "mark": {"type": "line", "color": "#169e9c", "strokeWidth": 2.2, "clip": true},
         "encoding": {"x": {"field": "x", "type": "quantitative"}, "y": {"field": "soff", "type": "quantitative"},
           "stroke": {"datum": "S_off", "type": "nominal"}}},
        {"mark": {"type": "rule", "color": "#777", "strokeWidth": 1.2, "strokeDash": [5, 3]},
         "encoding": {"x": {"datum": 4, "type": "quantitative"}}}
      ]
    }
  ],
  "spacing": 8,
  "config": {
    "font": "DejaVu Serif",
    "view": {"stroke": "#444", "strokeWidth": 1},
    "axis": {
      "labelFont": "DejaVu Serif", "labelFontSize": 19, "labelColor": "#000",
      "titleFont": "DejaVu Serif", "titleFontSize": 22, "titleFontWeight": "normal", "titleColor": "#000",
      "tickSize": -5, "tickColor": "#444", "domain": true, "domainColor": "#444", "grid": false,
      "labelFlush": false, "labelOverlap": false, "zindex": 1
    }
  }
}
